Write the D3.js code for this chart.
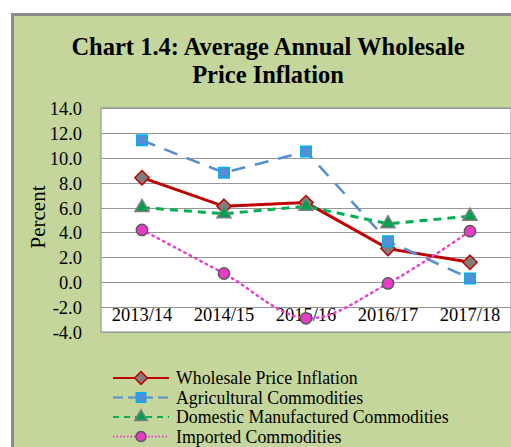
<!DOCTYPE html>
<html><head><meta charset="utf-8">
<script src="https://cdn.jsdelivr.net/npm/d3@7/dist/d3.min.js"></script>
<style>body{margin:0;background:#fff}svg{display:block}</style>
</head><body><svg id="c" width="511" height="447"></svg>
<script>
const categories = ["2013/14","2014/15","2015/16","2016/17","2017/18"];
const wholesale = [8.4, 6.1, 6.4, 2.7, 1.6];
const agricultural = [11.4, 8.8, 10.5, 3.3, 0.3];
const domestic = [6.0, 5.5, 6.1, 4.7, 5.3];
const imported = [4.2, 0.7, -2.9, -0.1, 4.1];
const yTicks = [14,12,10,8,6,4,2,0,-2,-4];
const seriesNames = ["Wholesale Price Inflation","Agricultural Commodities","Domestic Manufactured Commodities","Imported Commodities"];

const svg = d3.select("#c");
const font = "'Liberation Serif','Times New Roman',serif";

// outer panel
svg.append("rect").attr("x",12.5).attr("y",14.5).attr("width",520).attr("height",450)
  .attr("fill","#c4d69b").attr("stroke","#8c8c8c").attr("stroke-width",3);

// title
const title = svg.append("text").attr("text-anchor","middle").attr("font-family",font)
  .attr("font-weight","bold").attr("font-size",24.5).attr("fill","#000");
title.append("tspan").attr("x",268).attr("y",55).text("Chart 1.4: Average Annual Wholesale");
title.append("tspan").attr("x",268).attr("y",83).text("Price Inflation");

const L=101, R=511, T=108, B=332;
const x = d3.scaleBand().domain(categories).range([L,R]);
const y = d3.scaleLinear().domain([-4,14]).range([B,T]);

svg.append("rect").attr("x",L).attr("y",T).attr("width",R-L).attr("height",B-T)
  .attr("fill","#fff").attr("stroke","#8c8c8c").attr("stroke-width",1);

// gridlines
svg.append("g").selectAll("line").data(yTicks).join("line")
  .attr("x1",L).attr("x2",R).attr("y1",d=>Math.round(y(d))+0.5).attr("y2",d=>Math.round(y(d))+0.5)
  .attr("stroke","#969696").attr("stroke-width",1);

// y axis labels
const fmt = d => d3.format(".1f")(d).replace("\u2212","-");
const yAxis = d3.axisLeft(y).tickValues(yTicks).tickFormat(fmt).tickSize(0).tickPadding(0);
const gy = svg.append("g").attr("transform",`translate(${L-19},0)`).call(yAxis);
gy.select(".domain").remove();
gy.selectAll("text").attr("x",0).attr("text-anchor","end").attr("font-family",font)
  .attr("font-size",18.5).attr("fill","#000").attr("dy","0.35em");

// x labels
const xAxis = d3.axisBottom(x).tickSize(0).tickPadding(0);
const gx = svg.append("g").attr("transform",`translate(0,${y(-2)})`).call(xAxis);
gx.select(".domain").remove();
gx.selectAll("text").attr("font-family",font).attr("font-size",18.5).attr("fill","#000").attr("dy","0.75em");

// y title
svg.append("text").attr("transform","translate(45,217) rotate(-90)").attr("text-anchor","middle")
  .attr("font-family",font).attr("font-size",21).attr("fill","#000").text("Percent");

const cx = d => x(d)+x.bandwidth()/2;

const series = [
  {data:wholesale, color:"#c00000", width:3, dash:null, curve:d3.curveLinear, marker:"diamond", fill:"#7f7f7f", mstroke:"#c00000", size:130},
  {data:agricultural, color:"#558ed5", width:2.5, dash:"14,10", curve:d3.curveLinear, marker:"square", fill:"#558ed5", mstroke:"#00b0f0", size:110},
  {data:domestic, color:"#00b050", width:3, dash:"8,6", curve:d3.curveLinear, marker:"triangle", fill:"#00a050", mstroke:"#7f7f7f", size:85},
  {data:imported, color:"#e83fd0", width:2.5, dash:"1.5,4.5", curve:d3.curveCardinal.tension(0), marker:"circle", fill:"#e63cc8", mstroke:"#595959", size:100},
];
const symType = {diamond:d3.symbolDiamond2, square:d3.symbolSquare, triangle:d3.symbolTriangle, circle:d3.symbolCircle};

series.forEach(s=>{
  const line = d3.line().x((d,i)=>cx(categories[i])).y(d=>y(d)).curve(s.curve);
  svg.append("path").attr("d",line(s.data)).attr("fill","none").attr("stroke",s.color)
    .attr("stroke-width",s.width).attr("stroke-dasharray",s.dash).attr("stroke-linecap",s.marker==="circle"?"round":"butt");
});
series.forEach(s=>{
  svg.append("g").selectAll("path").data(s.data).join("path")
    .attr("transform",(d,i)=>`translate(${cx(categories[i])},${y(d)})`)
    .attr("d",d3.symbol().type(symType[s.marker]).size(s.size))
    .attr("fill",s.fill).attr("stroke",s.mstroke).attr("stroke-width",1.5);
});

// legend
const lg = svg.append("g");
series.forEach((s,i)=>{
  const yy = 378 + i*19.5;
  lg.append("line").attr("x1",113).attr("x2",169).attr("y1",yy).attr("y2",yy)
    .attr("stroke",s.color).attr("stroke-width",2).attr("stroke-dasharray",
      s.marker==="square"?"10,5":s.marker==="triangle"?"6,5":s.marker==="circle"?"1.5,2":null);
  lg.append("path").attr("transform",`translate(141,${yy})`)
    .attr("d",d3.symbol().type(symType[s.marker]).size(s.size*0.8))
    .attr("fill",s.fill).attr("stroke",s.mstroke).attr("stroke-width",1.5);
  lg.append("text").attr("x",176).attr("y",yy).attr("dy","0.35em").attr("font-family",font)
    .attr("font-size",17.8).attr("fill","#000").text(seriesNames[i]);
});
</script></body></html>
